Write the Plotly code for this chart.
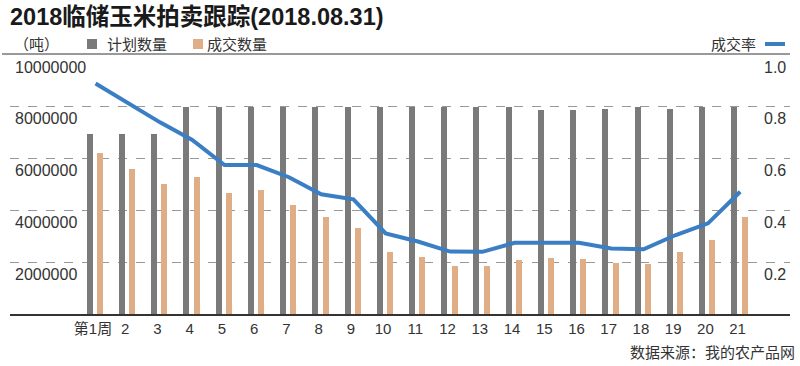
import plotly.graph_objects as go

weeks = list(range(1, 22))
week_labels = ["第1周"] + [str(i) for i in range(2, 22)]
planned = [6950000, 6950000, 6950000, 8000000, 8000000, 8000000, 8000000, 8000000, 8000000, 8000000,
           8000000, 8000000, 8000000, 8000000, 7870000, 7870000, 7930000, 8000000, 7930000, 8000000, 8000000]
traded = [6230000, 5590000, 5020000, 5280000, 4670000, 4780000, 4210000, 3760000, 3310000, 2390000,
          2210000, 1850000, 1850000, 2080000, 2160000, 2110000, 1970000, 1950000, 2410000, 2860000, 3760000]
rate = [0.89, 0.815, 0.74, 0.672, 0.575, 0.575, 0.528, 0.462, 0.443, 0.311,
        0.28, 0.241, 0.24, 0.275, 0.275, 0.275, 0.253, 0.25, 0.305, 0.35, 0.472]
left_ticks = [10000000, 8000000, 6000000, 4000000, 2000000]
right_ticks = [1.0, 0.8, 0.6, 0.4, 0.2]

GRAY = "#7a7a7a"
TAN = "#dfae86"
BLUE = "#3a7ec4"
FONT = "Liberation Sans, Noto Sans CJK SC, sans-serif"

W, H = 800, 366
ML, MR, MT, MB = 10, 10, 55, 52
PW = W - ML - MR
PH = H - MT - MB

def px(xp):
    return (xp - ML) / PW

def py(yp):
    return 1 - (yp - MT) / PH

fig = go.Figure()
fig.add_trace(go.Bar(x=weeks, y=planned, marker=dict(color=GRAY, line=dict(width=0)),
                     width=0.186, offset=-0.195, name="计划数量"))
fig.add_trace(go.Bar(x=weeks, y=traded, marker=dict(color=TAN, line=dict(width=0)),
                     width=0.186, offset=0.124, name="成交数量"))
fig.add_trace(go.Scatter(x=[w + 0.08 for w in weeks], y=rate, yaxis="y2", mode="lines",
                         line=dict(color=BLUE, width=4), name="成交率"))

annotations = []
for v in left_ticks:
    annotations.append(dict(x=px(13), xref="paper", y=v, yref="y", text=str(v), showarrow=False,
                            xanchor="left", yanchor="middle", yshift=-12,
                            font=dict(family=FONT, size=16, color="#333")))
for v in right_ticks:
    annotations.append(dict(x=px(762), xref="paper", y=v, yref="y2", text=f"{v:.1f}", showarrow=False,
                            xanchor="left", yanchor="middle", yshift=-12,
                            font=dict(family=FONT, size=16, color="#333")))

annotations += [
    dict(x=px(8), y=py(17), xref="paper", yref="paper", text="<b>2018临储玉米拍卖跟踪(2018.08.31)</b>",
         showarrow=False, xanchor="left", yanchor="middle",
         font=dict(family=FONT, size=23.5, color="#1a1a1a")),
    dict(x=px(12), y=py(44), xref="paper", yref="paper", text="（吨）", showarrow=False,
         xanchor="left", yanchor="middle", font=dict(family=FONT, size=15, color="#333")),
    dict(x=px(105), y=py(44), xref="paper", yref="paper", text="计划数量", showarrow=False,
         xanchor="left", yanchor="middle", font=dict(family=FONT, size=15, color="#333")),
    dict(x=px(205), y=py(44), xref="paper", yref="paper", text="成交数量", showarrow=False,
         xanchor="left", yanchor="middle", font=dict(family=FONT, size=15, color="#333")),
    dict(x=px(758), y=py(44), xref="paper", yref="paper", text="成交率", showarrow=False,
         xanchor="right", yanchor="middle", font=dict(family=FONT, size=15, color="#333")),
    dict(x=px(797), y=py(352), xref="paper", yref="paper", text="数据来源：我的农产品网", showarrow=False,
         xanchor="right", yanchor="middle", font=dict(family=FONT, size=15, color="#333")),
]

shapes = [
    dict(type="rect", xref="paper", yref="paper", x0=px(87), x1=px(97), y0=py(49), y1=py(39),
         fillcolor=GRAY, line=dict(width=0)),
    dict(type="rect", xref="paper", yref="paper", x0=px(193), x1=px(203), y0=py(49), y1=py(39),
         fillcolor=TAN, line=dict(width=0)),
    dict(type="line", xref="paper", yref="paper", x0=px(765), x1=px(785), y0=py(44), y1=py(44),
         line=dict(color=BLUE, width=4)),
    dict(type="line", xref="paper", yref="paper", x0=px(2), x1=px(790), y0=py(54), y1=py(54),
         line=dict(color="#777", width=1.5)),
]

fig.update_layout(
    width=W, height=H, margin=dict(l=ML, r=MR, t=MT, b=MB),
    paper_bgcolor="white", plot_bgcolor="white", showlegend=False,
    barmode="overlay", bargap=0,
    font=dict(family=FONT, size=15, color="#333"),
    xaxis=dict(range=[-1.575, 22.625], tickmode="array", tickvals=weeks, ticktext=week_labels,
               showgrid=False, zeroline=False, showline=True, linecolor="#333", linewidth=1.5,
               ticks="", tickfont=dict(family=FONT, size=15, color="#333")),
    yaxis=dict(range=[0, 10000000], tickmode="array", tickvals=left_ticks[1:], showticklabels=False,
               showgrid=True, gridcolor="#999", griddash="dash", gridwidth=1, zeroline=False, ticks=""),
    yaxis2=dict(range=[0, 1], overlaying="y", side="right", showgrid=False, showticklabels=False,
                zeroline=False, ticks=""),
    annotations=annotations, shapes=shapes,
)

fig.write_html("out.html", config={"displayModeBar": False},
               post_script="document.body.style.margin='0';document.body.style.overflow='hidden';")
